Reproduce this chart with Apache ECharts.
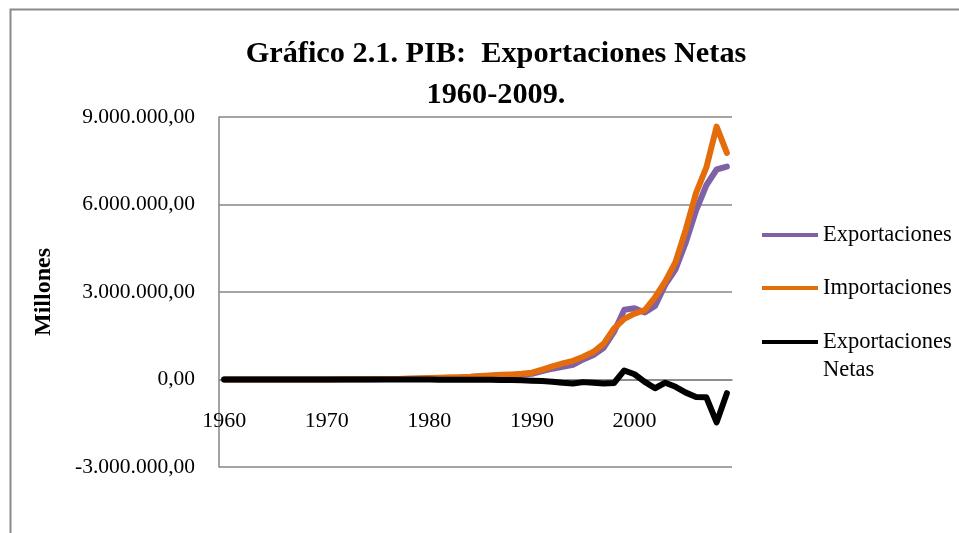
<!DOCTYPE html>
<html>
<head>
<meta charset="utf-8">
<script src="https://cdn.jsdelivr.net/npm/echarts@6/dist/echarts.min.js"></script>
<style>
html,body{margin:0;padding:0;background:#fff;}
#c{width:959px;height:533px;}
</style>
</head>
<body>
<div id="c"></div>
<script>
const years = [];
for (let y = 1960; y <= 2009; y++) years.push(String(y));

const exportaciones = [
  1100, 1200, 1300, 1500, 1700, 1900, 2100, 2300, 2600, 3000,
  3600, 4000, 5000, 6800, 9000, 10500, 14000, 18500, 24000, 33000,
  44000, 55000, 63000, 72000, 88000, 112000, 128000, 142000, 155000, 167000,
  195000, 285000, 370000, 435000, 500000, 690000, 840000, 1090000, 1630000, 2390000,
  2440000, 2300000, 2520000, 3250000, 3780000, 4700000, 5800000, 6660000, 7200000, 7300000
];
const importaciones = [
  1200, 1300, 1500, 1700, 2000, 2100, 2400, 2600, 3000, 3500,
  4200, 4800, 5800, 7500, 11000, 13000, 16000, 21000, 27000, 36000,
  48000, 62000, 70000, 78000, 95000, 120000, 140000, 160000, 175000, 195000,
  235000, 340000, 450000, 550000, 640000, 780000, 950000, 1230000, 1750000, 2080000,
  2260000, 2380000, 2820000, 3360000, 4030000, 5150000, 6400000, 7270000, 8670000, 7770000
];
const netas = [
  -100, -100, -200, -200, -300, -200, -300, -300, -400, -500,
  -600, -800, -800, -700, -2000, -2500, -2000, -2500, -3000, -3000,
  -4000, -7000, -7000, -6000, -7000, -8000, -12000, -18000, -20000, -28000,
  -40000, -55000, -80000, -115000, -140000, -90000, -110000, -140000, -120000, 310000,
  180000, -80000, -300000, -110000, -250000, -450000, -600000, -610000, -1470000, -470000
];
const yTicks = [-3000000, 0, 3000000, 6000000, 9000000];

const FONT = '"Liberation Serif", serif';
function fmt(v) {
  const neg = v < 0;
  const s = Math.abs(Math.round(v)).toString().replace(/\B(?=(\d{3})+(?!\d))/g, '.');
  return (neg ? '-' : '') + s + ',00';
}

const chart = echarts.init(document.getElementById('c'), null, {renderer: 'canvas'});
const legendBase = {
  orient: 'vertical', left: 757, itemWidth: 56, itemHeight: 4, itemGap: 0, icon: 'rect',
  textStyle: {fontFamily: FONT, fontSize: 22.5, color: '#000', lineHeight: 28}
};
chart.setOption({
  animation: false,
  backgroundColor: '#fff',
  graphic: [{
    type: 'rect', left: 8, top: 7, z: -1,
    shape: {width: 1000, height: 600},
    style: {fill: 'none', stroke: '#8a8a8a', lineWidth: 2}
  }],
  title: {
    text: 'Gráfico 2.1. PIB:  Exportaciones Netas\n1960-2009.',
    left: 491, top: 29, textAlign: 'center',
    textStyle: {fontFamily: FONT, fontSize: 30.3, fontWeight: 'bold', color: '#000', lineHeight: 41}
  },
  legend: [
    Object.assign({}, legendBase, {top: 216, data: ['Exportaciones']}),
    Object.assign({}, legendBase, {top: 269, data: ['Importaciones']}),
    Object.assign({}, legendBase, {top: 295, data: ['Exportaciones Netas'],
      formatter: () => ' \nExportaciones\nNetas'})
  ],
  grid: {left: 219, right: 227, top: 117, bottom: 66},
  xAxis: {
    type: 'category', data: years, boundaryGap: true, offset: -87,
    axisLine: {onZero: false, lineStyle: {color: '#868686', width: 1.5}},
    axisTick: {show: false},
    axisLabel: {interval: 9, margin: 30, fontFamily: FONT, fontSize: 22, color: '#000'},
    splitLine: {show: false}
  },
  yAxis: {
    type: 'value', min: -3000000, max: 9000000, interval: 3000000,
    name: 'Millones', nameLocation: 'middle', nameGap: 163,
    nameTextStyle: {fontFamily: FONT, fontSize: 24, fontWeight: 'bold', color: '#000'},
    axisLine: {show: true, lineStyle: {color: '#868686', width: 1.5}},
    axisTick: {show: false},
    axisLabel: {margin: 24, fontFamily: FONT, fontSize: 21.5, color: '#000',
      formatter: v => yTicks.indexOf(v) >= 0 ? fmt(v) : ''},
    splitLine: {lineStyle: {color: '#868686', width: 1.5}}
  },
  series: [
    {name: 'Exportaciones', type: 'line', data: exportaciones, symbol: 'none', color: '#7F62A6',
      lineStyle: {width: 6, color: '#7F62A6', cap: 'round', join: 'round'}},
    {name: 'Importaciones', type: 'line', data: importaciones, symbol: 'none', color: '#E46C0A',
      lineStyle: {width: 6, color: '#E46C0A', cap: 'round', join: 'round'}},
    {name: 'Exportaciones Netas', type: 'line', data: netas, symbol: 'none', color: '#000',
      lineStyle: {width: 6, color: '#000', cap: 'round', join: 'round'}}
  ]
});
</script>
</body>
</html>
